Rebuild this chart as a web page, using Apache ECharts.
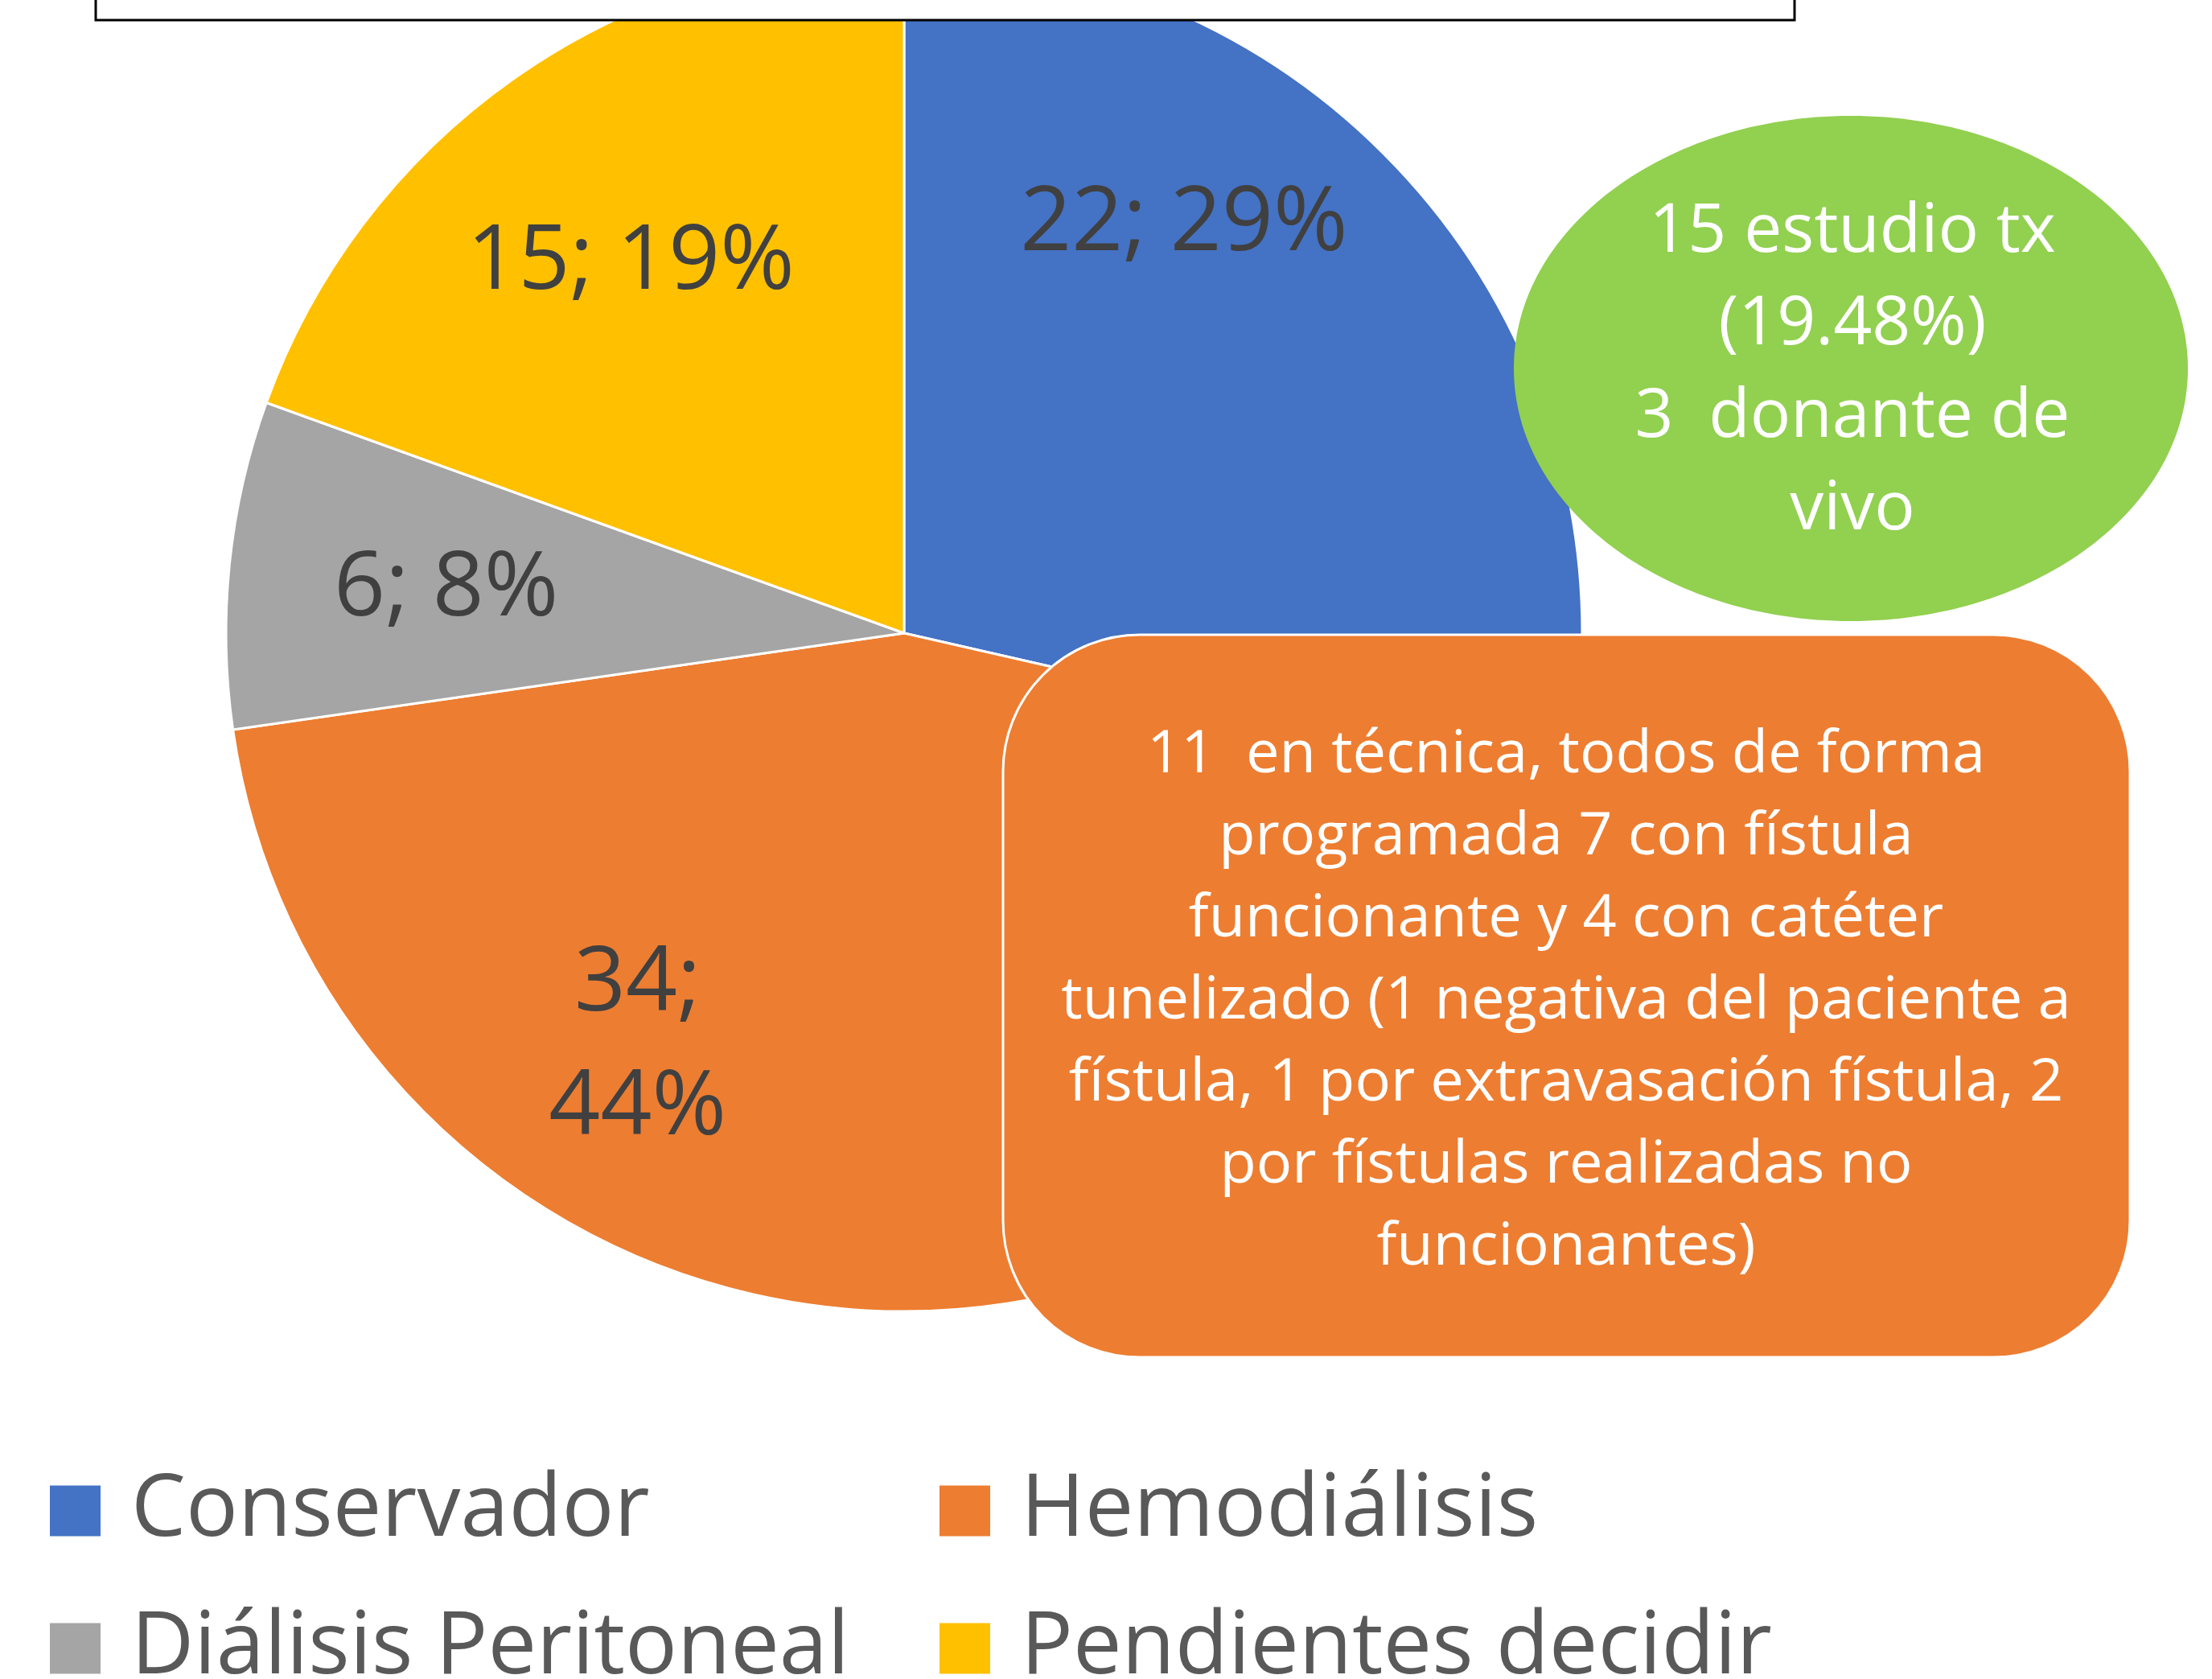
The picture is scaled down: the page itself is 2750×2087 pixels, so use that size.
<!DOCTYPE html>
<html>
<head>
<meta charset="utf-8">
<title>Tratamiento</title>
<script src="https://cdn.jsdelivr.net/npm/echarts@6/dist/echarts.min.js"></script>
<style>
html,body{margin:0;padding:0;background:#fff;}
#main{width:2750px;height:2087px;}
</style>
</head>
<body>
<div id="main"></div>
<script>
//datos
var categories = ['Conservador', 'Hemodiálisis', 'Diálisis Peritoneal', 'Pendientes decidir'];
var patients = [22, 34, 6, 15];
var colors = ['#4472C4', '#ED7D31', '#A5A5A5', '#FFC000'];
var noteGreen = ['15 estudio tx', '(19.48%)', '3  donante de', 'vivo'];
var noteOrange = [
	'11  en técnica, todos de forma',
	'programada 7 con fístula',
	'funcionante y 4 con catéter',
	'tunelizado (1 negativa del paciente a',
	'fístula, 1 por extravasación fístula, 2',
	'por fístulas realizadas no',
	'funcionantes)'
];

//desplazamiento de etiquetas respecto a la posicion 'inside'
var labelShift = [[16, -243], [-314, 90], [-147, -11], [-96, -112]];
//leyenda en 2 columnas (left, top)
var legendPos = [[60, 1824], [1166, 1824], [60, 1995], [1166, 1995]];

var font = '"Open Sans", "Noto Sans", sans-serif';

var chart = echarts.init(document.getElementById('main'));

var pieData = categories.map(function (name, i) {
	return {name: name, value: patients[i], itemStyle: {color: colors[i]}};
});

var legends = categories.map(function (name, i) {
	return {
		left: legendPos[i][0],
		top: legendPos[i][1],
		padding: 0,
		data: [name],
		icon: 'rect',
		itemWidth: 65,
		itemHeight: 65,
		selectedMode: false,
		textStyle: {
			color: '#595959',
			fontSize: 108,
			lineHeight: 65,
			fontFamily: font,
			padding: [0, 0, 0, 32]
		}
	};
});

chart.setOption({
	animation: false,
	legend: legends,
	series: [
		{
			type: 'pie',
			center: [1124, 787],
			radius: 843,
			startAngle: 90,
			clockwise: true,
			silent: true,
			avoidLabelOverlap: false,
			emphasis: {disabled: true},
			itemStyle: {borderColor: '#fff', borderWidth: 3},
			label: {
				position: 'inside',
				color: '#404040',
				fontSize: 112,
				lineHeight: 154,
				fontFamily: font,
				formatter: function (p) {
					var pct = Math.round(p.percent);
					return p.dataIndex === 1 ? p.value + ';\n' + pct + '%' : p.value + '; ' + pct + '%';
				}
			},
			labelLine: {show: false},
			labelLayout: function (params) {
				var s = labelShift[params.dataIndex];
				return {dx: s[0], dy: s[1]};
			},
			data: pieData
		}
	],
	graphic: [
		{
			type: 'rect',
			z: 100,
			shape: {x: 119, y: -20, width: 2112, height: 45},
			style: {fill: '#fff', stroke: '#000', lineWidth: 3}
		},
		{
			type: 'ellipse',
			z: 100,
			shape: {cx: 2301, cy: 458, rx: 419, ry: 314},
			style: {fill: '#92D050'}
		},
		{
			type: 'text',
			z: 101,
			style: {
				text: noteGreen.join('\n'),
				x: 2303,
				y: 462,
				fill: '#fff',
				fontSize: 84,
				fontFamily: font,
				lineHeight: 115,
				textAlign: 'center',
				align: 'center',
				textVerticalAlign: 'middle',
				verticalAlign: 'middle'
			}
		},
		{
			type: 'rect',
			z: 100,
			shape: {x: 1247, y: 789, width: 1401, height: 898, r: 170},
			style: {fill: '#ED7D31', stroke: '#fff', lineWidth: 3}
		},
		{
			type: 'text',
			z: 101,
			style: {
				text: noteOrange.join('\n'),
				x: 1947,
				y: 1245,
				fill: '#fff',
				fontSize: 74,
				fontFamily: font,
				lineHeight: 102,
				textAlign: 'center',
				align: 'center',
				textVerticalAlign: 'middle',
				verticalAlign: 'middle'
			}
		}
	]
});
</script>
</body>
</html>
